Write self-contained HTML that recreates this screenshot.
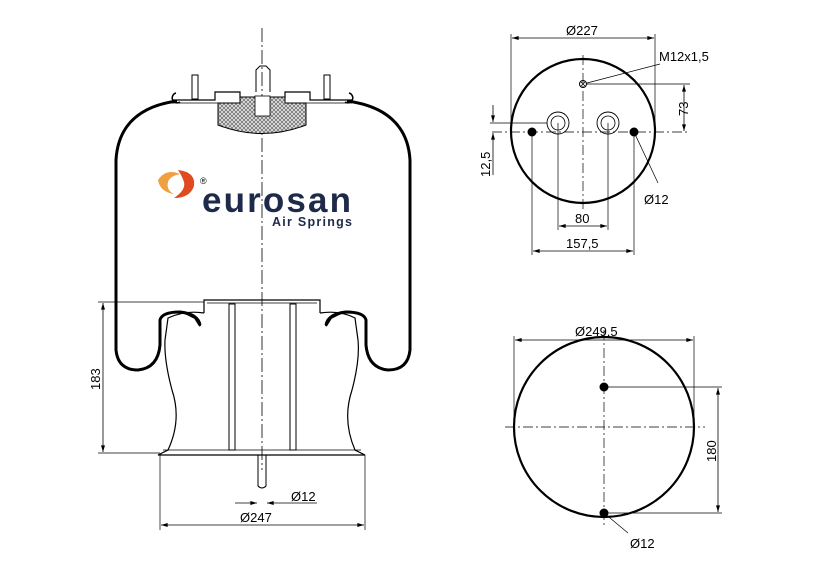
<!DOCTYPE html>
<html><head><style>
html,body{margin:0;padding:0;background:#fff;}
svg text{font-family:"Liberation Sans",Arial,sans-serif;}
</style></head><body>
<svg width="839" height="577" viewBox="0 0 839 577" xmlns="http://www.w3.org/2000/svg">
<defs>
<pattern id="hx" width="4" height="4" patternUnits="userSpaceOnUse"><rect width="4" height="4" fill="#ddd"/><path d="M0 0L4 4M4 0L0 4" stroke="#555" stroke-width="0.6"/></pattern>
<marker id="a" viewBox="0 0 10 6" refX="10" refY="3" markerWidth="9" markerHeight="5" orient="auto-start-reverse"><path d="M0 0L10 3L0 6z" fill="#000"/></marker>
</defs>
<g fill="none" stroke="#000">
<line x1="262" y1="28" x2="262" y2="470" stroke-width="0.8" stroke-dasharray="14,3,2,3"/>
<path d="M172 100 L215 100 L215 92 L240 92 L240 98 L285 98 L285 92 L310 92 L310 100 L352 100" stroke-width="1.2"/>
<path d="M172 103 L352 103" stroke-width="0.8"/>
<path d="M180 102 A5 5 0 1 1 176 93" stroke-width="1.5"/>
<path d="M345 102 A5 5 0 1 0 349 93" stroke-width="1.5"/>
<rect x="192" y="75" width="6" height="24" stroke-width="1"/>
<rect x="324" y="75" width="6" height="24" stroke-width="1"/>
<path d="M256 92 L256 70 L260 66 L266 66 L270 70 L270 92" stroke-width="1"/>
<path d="M218 103 L218 125 Q262 142 306 125 L306 103 L285 103 L285 97 L240 97 L240 103 Z" fill="url(#hx)" stroke-width="1"/>
<rect x="255" y="96" width="15" height="20" fill="#fff" stroke-width="0.8"/>
<path d="M177 101 C140 106 118 125 116 160 L116 350 Q118 370 138 370 Q158 368 160 345 L160 320 Q162 312 180 312 Q198 314 200 325" stroke-width="3"/>
<path d="M347 101 C385 106 408 125 410 160 L410 350 Q408 370 388 370 Q368 368 366 345 L366 320 Q364 312 346 312 Q328 314 326 325" stroke-width="3"/>
<path d="M185 313 Q198 314 200 326 L195 318Z" fill="#000" stroke-width="2"/>
<path d="M341 313 Q328 314 326 326 L331 318Z" fill="#000" stroke-width="2"/>
<path d="M204 313 L204 300 L320 300 L320 313" stroke-width="1.2"/>
<path d="M204 313 Q185 310 168 318 L165 340 Q164 360 172 390 Q182 420 168 450 L158 455 L365 455 L355 450 Q342 420 352 390 Q360 360 358 340 L355 318 Q340 310 320 313" stroke-width="1.2"/>
<path d="M163 450 L361 450" stroke-width="0.8"/>
<path d="M207 303 L317 303" stroke-width="0.7"/>
<rect x="229" y="304" width="6" height="146" stroke-width="1"/>
<rect x="290" y="304" width="6" height="146" stroke-width="1"/>
<path d="M258 455 L258 486 Q262 490 266 486 L266 455" stroke-width="1"/>
<line x1="98" y1="302" x2="204" y2="302" stroke-width="0.7"/>
<line x1="98" y1="453" x2="160" y2="453" stroke-width="0.7"/>
<line x1="103" y1="303" x2="103" y2="452" stroke-width="0.8" marker-start="url(#a)" marker-end="url(#a)"/>
<line x1="160" y1="455" x2="160" y2="530" stroke-width="0.7"/>
<line x1="365" y1="455" x2="365" y2="530" stroke-width="0.7"/>
<line x1="161" y1="525" x2="364" y2="525" stroke-width="0.8" marker-start="url(#a)" marker-end="url(#a)"/>
<line x1="235" y1="503" x2="257" y2="503" stroke-width="0.8" marker-end="url(#a)"/>
<line x1="317" y1="503" x2="267" y2="503" stroke-width="0.8" marker-end="url(#a)"/>
<circle cx="583" cy="131" r="72" stroke-width="2.2"/>
<line x1="583" y1="55" x2="583" y2="210" stroke-width="0.7" stroke-dasharray="10,3,2,3"/>
<line x1="492" y1="132" x2="688" y2="132" stroke-width="0.7" stroke-dasharray="10,3,2,3"/>
<circle cx="583" cy="84" r="3.5" stroke-width="1"/>
<path d="M581 82L585 86M585 82L581 86" stroke-width="0.8"/>
<circle cx="558" cy="123" r="11" stroke-width="0.9"/><circle cx="558" cy="123" r="7" stroke-width="0.8"/>
<circle cx="608" cy="123" r="11" stroke-width="0.9"/><circle cx="608" cy="123" r="7" stroke-width="0.8"/>
<line x1="511" y1="131" x2="511" y2="34" stroke-width="0.7"/>
<line x1="655" y1="131" x2="655" y2="34" stroke-width="0.7"/>
<line x1="512" y1="38" x2="654" y2="38" stroke-width="0.8" marker-start="url(#a)" marker-end="url(#a)"/>
<line x1="586" y1="84" x2="690" y2="84" stroke-width="0.7"/>
<line x1="684" y1="85" x2="684" y2="131" stroke-width="0.8" marker-start="url(#a)" marker-end="url(#a)"/>
<line x1="587" y1="83" x2="660" y2="64" stroke-width="0.7"/>
<line x1="490" y1="123" x2="547" y2="123" stroke-width="0.7"/>
<line x1="493" y1="105" x2="493" y2="122" stroke-width="0.8" marker-end="url(#a)"/>
<line x1="493" y1="175" x2="493" y2="133" stroke-width="0.8" marker-end="url(#a)"/>
<line x1="558" y1="123" x2="558" y2="230" stroke-width="0.7"/>
<line x1="608" y1="123" x2="608" y2="230" stroke-width="0.7"/>
<line x1="559" y1="226" x2="607" y2="226" stroke-width="0.8" marker-start="url(#a)" marker-end="url(#a)"/>
<line x1="532" y1="132" x2="532" y2="255" stroke-width="0.7"/>
<line x1="634" y1="132" x2="634" y2="255" stroke-width="0.7"/>
<line x1="533" y1="251" x2="633" y2="251" stroke-width="0.8" marker-start="url(#a)" marker-end="url(#a)"/>
<line x1="634" y1="132" x2="658" y2="183" stroke-width="0.7"/>
<circle cx="604" cy="427" r="90" stroke-width="2.2"/>
<line x1="604" y1="330" x2="604" y2="525" stroke-width="0.7" stroke-dasharray="10,3,2,3"/>
<line x1="505" y1="427" x2="705" y2="427" stroke-width="0.7" stroke-dasharray="10,3,2,3"/>
<line x1="514" y1="427" x2="514" y2="336" stroke-width="0.7"/>
<line x1="694" y1="427" x2="694" y2="336" stroke-width="0.7"/>
<line x1="515" y1="340" x2="693" y2="340" stroke-width="0.8" marker-start="url(#a)" marker-end="url(#a)"/>
<line x1="604" y1="387" x2="722" y2="387" stroke-width="0.7"/>
<line x1="604" y1="513" x2="722" y2="513" stroke-width="0.7"/>
<line x1="718" y1="388" x2="718" y2="512" stroke-width="0.8" marker-start="url(#a)" marker-end="url(#a)"/>
<line x1="604" y1="513" x2="628" y2="533" stroke-width="0.7"/>
</g>
<g fill="#000">
<circle cx="532" cy="132" r="4.5"/><circle cx="634" cy="132" r="4.5"/>
<circle cx="604" cy="387" r="4.5"/><circle cx="604" cy="513" r="4.5"/>
</g>
<g font-size="13" fill="#000">
<text x="566" y="35">Ø227</text>
<text x="659" y="61">M12x1,5</text>
<text x="688" y="116" transform="rotate(-90 688 116)">73</text>
<text x="490" y="177" transform="rotate(-90 490 177)">12,5</text>
<text x="644" y="204">Ø12</text>
<text x="575" y="223">80</text>
<text x="566" y="248">157,5</text>
<text x="575" y="336">Ø249,5</text>
<text x="716" y="462" transform="rotate(-90 716 462)">180</text>
<text x="630" y="548">Ø12</text>
<text x="100" y="390" transform="rotate(-90 100 390)">183</text>
<text x="291" y="501">Ø12</text>
<text x="240" y="522">Ø247</text>
</g>
<g>
<path d="M158 180 Q166 168 180 174 Q170 176 168 182 Q166 190 174 194 Q160 192 158 180Z" fill="#f0a040"/>
<path d="M178 170 Q196 172 194 186 Q190 198 174 198 Q186 190 184 182 Q182 176 178 170Z" fill="#e04a20"/>
<text x="200" y="184" font-size="9">®</text>
<text x="202" y="212" font-size="35" font-weight="bold" fill="#1e2a4a" textLength="149" lengthAdjust="spacing">eurosan</text>
<text x="272" y="226" font-size="12.5" font-weight="bold" fill="#1e2a4a" textLength="80">Air Springs</text>
</g>
</svg>
</body></html>
